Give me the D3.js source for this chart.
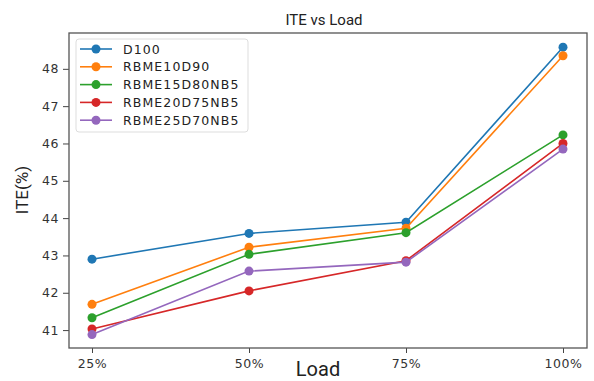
<!DOCTYPE html>
<html>
<head>
<meta charset="utf-8">
<script src="https://cdn.jsdelivr.net/npm/d3@7"></script>
<style>
  body { margin: 0; background: #fff; }
  svg { display: block; }
</style>
</head>
<body>
<div id="frame"></div>
<script>
var loads = ["25%", "50%", "75%", "100%"];
var seriesNames = ["D100", "RBME10D90", "RBME15D80NB5", "RBME20D75NB5", "RBME25D70NB5"];
var seriesColours = ["#1f77b4", "#ff7f0e", "#2ca02c", "#d62728", "#9467bd"];
var d100 = [42.90, 43.59, 43.89, 48.58];
var rbme10 = [41.69, 43.22, 43.73, 48.35];
var rbme15 = [41.33, 43.03, 43.61, 46.23];
var rbme20 = [41.03, 42.05, 42.86, 46.00];
var rbme25 = [40.88, 42.58, 42.82, 45.85];
var yTicks = [41, 42, 43, 44, 45, 46, 47, 48];

var allSeries = [d100, rbme10, rbme15, rbme20, rbme25];

var W = 594, H = 381;
var margin = {left: 69, top: 33, right: 7, bottom: 33};

var svg = d3.select('#frame').append('svg').attr('width', W).attr('height', H);

var x = d3.scalePoint()
  .domain(loads)
  .range([margin.left + 23, W - margin.right - 24]);

var y = d3.scaleLinear()
  .domain([40.52, 48.96])
  .range([H - margin.bottom, margin.top]);

// axes
var xAxis = svg.append('g')
  .attr('transform', 'translate(0,' + (H - margin.bottom) + ')')
  .call(d3.axisBottom(x).tickSize(5).tickPadding(6));
var yAxis = svg.append('g')
  .attr('transform', 'translate(' + margin.left + ',0)')
  .call(d3.axisLeft(y).tickValues(yTicks).tickSize(6).tickPadding(4).tickFormat(d3.format('d')));

[xAxis, yAxis].forEach(function(a) {
  a.select('.domain').remove();
  a.selectAll('line').attr('stroke', '#444');
  a.selectAll('text')
    .attr('fill', '#333')
    .attr('font-family', 'DejaVu Sans')
    .attr('font-size', '12.5px')
    .attr('letter-spacing', '0.6px');
});

// frame
svg.append('rect')
  .attr('x', margin.left)
  .attr('y', margin.top)
  .attr('width', W - margin.left - margin.right)
  .attr('height', H - margin.top - margin.bottom)
  .attr('fill', 'none')
  .attr('stroke', '#555')
  .attr('stroke-width', 1.3);

var line = d3.line()
  .x(function(d, i) { return x(loads[i]); })
  .y(function(d) { return y(d); });

allSeries.forEach(function(vals, k) {
  svg.append('path')
    .datum(vals)
    .attr('d', line)
    .attr('fill', 'none')
    .attr('stroke', seriesColours[k])
    .attr('stroke-width', 1.6);
  svg.selectAll('.pt' + k)
    .data(vals)
    .enter()
    .append('circle')
    .attr('cx', function(d, i) { return x(loads[i]); })
    .attr('cy', function(d) { return y(d); })
    .attr('r', 4.5)
    .attr('fill', seriesColours[k]);
});

// legend
var legend = svg.append('g').attr('transform', 'translate(76,39)');
legend.append('rect')
  .attr('width', 172)
  .attr('height', 93)
  .attr('rx', 3)
  .attr('fill', '#fff')
  .attr('fill-opacity', 0.85)
  .attr('stroke', '#ddd');
seriesNames.forEach(function(name, k) {
  var ly = 10 + k * 17.8;
  legend.append('line')
    .attr('x1', 4).attr('x2', 36)
    .attr('y1', ly).attr('y2', ly)
    .attr('stroke', seriesColours[k])
    .attr('stroke-width', 1.6);
  legend.append('circle')
    .attr('cx', 20).attr('cy', ly).attr('r', 4.5)
    .attr('fill', seriesColours[k]);
  legend.append('text')
    .attr('x', 47).attr('y', ly + 4.5)
    .attr('font-family', 'DejaVu Sans')
    .attr('font-size', '12.5px')
    .attr('letter-spacing', '1.1px')
    .attr('fill', '#222')
    .text(name);
});

// titles
svg.append('text')
  .attr('x', 324).attr('y', 25)
  .attr('text-anchor', 'middle')
  .attr('font-family', 'Roboto')
  .attr('font-size', '15px')
  .attr('fill', '#222')
  .text('ITE vs Load');

svg.append('text')
  .attr('transform', 'translate(28,' + 190 + ') rotate(-90)')
  .attr('text-anchor', 'middle')
  .attr('font-family', 'Roboto')
  .attr('font-size', '17px')
  .attr('fill', '#222')
  .text('ITE(%)');

svg.append('text')
  .attr('x', 318).attr('y', 376)
  .attr('text-anchor', 'middle')
  .attr('font-family', 'Roboto')
  .attr('font-size', '20px')
  .attr('fill', '#222')
  .text('Load');
</script>
</body>
</html>
